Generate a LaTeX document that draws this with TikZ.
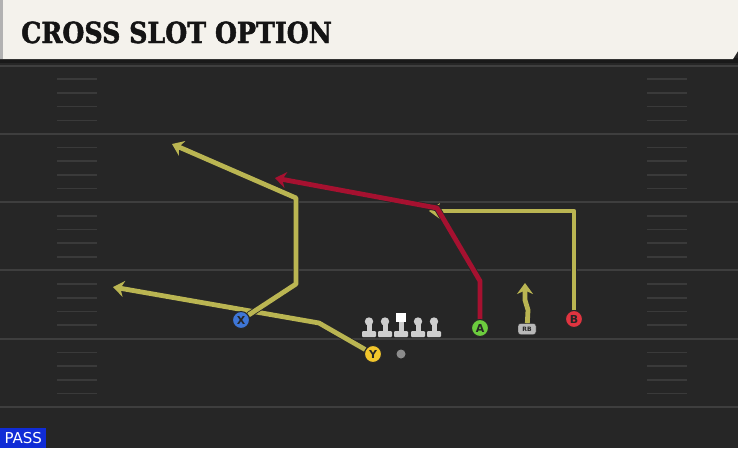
\documentclass[tikz,border=0pt]{standalone}
\usepackage{fontspec}
\setmainfont{DejaVu Sans}
\newfontfamily\titlefont[FakeBold=1.6,FakeStretch=0.97]{DejaVu Serif Condensed}
\usetikzlibrary{arrows.meta}

\definecolor{field}{RGB}{38,38,38}
\definecolor{yardline}{RGB}{62,62,62}
\definecolor{hash}{RGB}{58,58,58}
\definecolor{headerbg}{RGB}{244,242,236}
\definecolor{routeyel}{RGB}{186,181,82}
\definecolor{routered}{RGB}{166,17,48}
\definecolor{xblue}{RGB}{62,118,214}
\definecolor{yyel}{RGB}{242,198,44}
\definecolor{agreen}{RGB}{108,204,62}
\definecolor{bred}{RGB}{224,52,64}
\definecolor{passblue}{RGB}{16,44,214}
\definecolor{lineman}{RGB}{206,206,206}

\pgfdeclarelayer{back}
\pgfdeclarelayer{routes}
\pgfsetlayers{back,routes,main}

\begin{document}
\begin{tikzpicture}[x=1pt,y=-1pt,
  player/.style={circle,draw=black!85,line width=1pt,minimum size=17pt,
    inner sep=0pt,font=\bfseries\fontsize{11}{11}\selectfont,text=black!85},
  route/.style={line width=4.8pt,line join=round,
    -{Stealth[length=11pt,width=16pt,inset=3.5pt]},
    preaction={draw=black!85,line width=6.4pt}}]
\useasboundingbox (0,0) rectangle (738,448);

\begin{pgfonlayer}{back}
% field
\fill[field] (0,0) rectangle (738,448);
\foreach \k in {0,...,5}
  \draw[yardline,line width=2pt] (0,65.5+68.3*\k) -- (738,65.5+68.3*\k);
\foreach \k in {0,...,4}
  \foreach \j in {1,...,4} {
    \draw[hash,line width=1.5pt] (57,65.5+68.3*\k+13.7*\j) -- (97,65.5+68.3*\k+13.7*\j);
    \draw[hash,line width=1.5pt] (647,65.5+68.3*\k+13.7*\j) -- (687,65.5+68.3*\k+13.7*\j);
  }

% header
\fill[black!90] (0,58) rectangle (738,63);
\fill[headerbg] (0,0) -- (738,0) -- (738,51) -- (733,59) -- (0,59) -- cycle;
\fill[black!30] (0,0) rectangle (3,59);
\end{pgfonlayer}

\node[anchor=base west,inner sep=0pt,text=black!92] (title) at (21,43)
  {\titlefont\bfseries\fontsize{29}{30}\selectfont CROSS SLOT OPTION};

% offensive line
\foreach \lx in {369,385,418,434} {
  \fill[lineman] (\lx,321.5) circle (4.2);
}
\foreach \lx in {369,385,401,418,434} {
  \fill[lineman] (\lx-2.5,321) rectangle (\lx+2.5,332);
  \fill[lineman,rounded corners=1pt] (\lx-7,331) rectangle (\lx+7,337);
}
\fill[white] (396,313) rectangle (406,322);
\node[circle,fill=black!45,minimum size=9pt,inner sep=0pt] (QB) at (401,354) {};

% players
\node[player,fill=xblue] (X) at (241,320) {X};
\node[player,fill=yyel] (Y) at (373,354) {Y};
\node[player,fill=agreen] (A) at (480,328) {A};
\node[player,fill=bred] (B) at (574,319) {B};
\node[draw=black!85,fill=black!28,rounded corners=2.5pt,minimum width=18pt,
  minimum height=11pt,inner sep=0pt,font=\bfseries\fontsize{6}{6}\selectfont,
  text=black!85] (RB) at (527,329) {RB};

\coordinate (y1) at (319,323);
\coordinate (y2) at (113,287);
\coordinate (x1) at (296,284);
\coordinate (x2) at (296,198);
\coordinate (x3) at (172,144);
\coordinate (a1) at (480,281);
\coordinate (a2) at (437,208);
\coordinate (a3) at (275,178);
\coordinate (b1) at (574,211);
\coordinate (b2) at (429,211);
\coordinate (r1) at (528,310);
\coordinate (r2) at (525,300);
\coordinate (r3) at (525,283);

\begin{pgfonlayer}{routes}
\draw[route,routeyel] (Y) -- (y1) -- (y2);
\draw[route,routeyel] (X) -- (x1) -- (x2) -- (x3);
\draw[route,routeyel] (B) -- (b1) -- (b2);
\draw[route,routered] (A) -- (a1) -- (a2) -- (a3);
\draw[route,routeyel] (RB) -- (r1) -- (r2) -- (r3);
\end{pgfonlayer}

\node[fill=passblue,text=white,anchor=south west,minimum width=46pt,
  minimum height=20pt,inner sep=0pt,font=\fontsize{15}{15}\selectfont] (pass) at (0,448) {PASS};
\end{tikzpicture}
\end{document}
